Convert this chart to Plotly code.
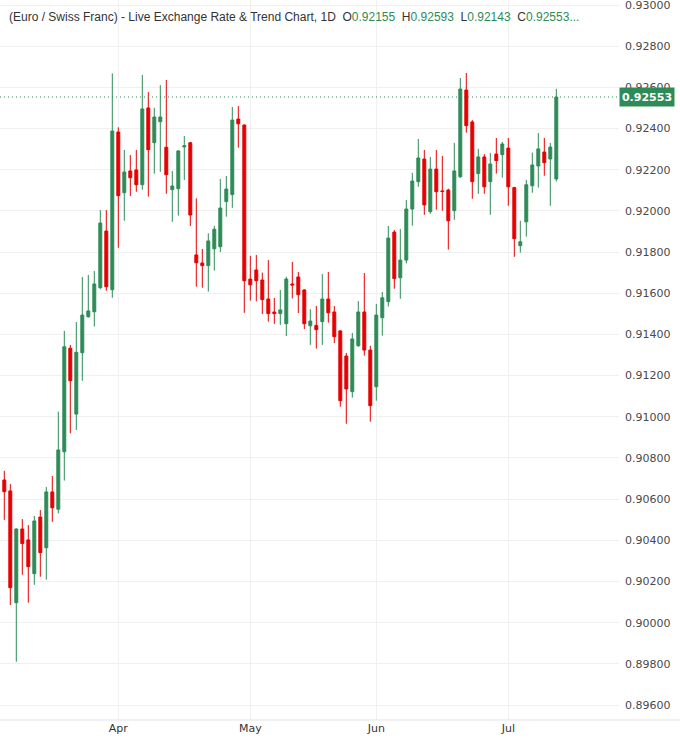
import pandas as pd
import plotly.graph_objects as go

# ---- data ----
dates = pd.bdate_range("2026-03-05", "2026-07-13")

opens = [0.90693, 0.90640, 0.90097, 0.90455, 0.90402, 0.90238, 0.90513, 0.90364, 0.90635, 0.90551,
         0.90830, 0.91333, 0.91013, 0.91311, 0.91486, 0.91510, 0.91627, 0.91902, 0.91617, 0.92383,
         0.92088, 0.92194, 0.92199, 0.92127, 0.92500, 0.92331, 0.92433, 0.92309, 0.92103, 0.92108,
         0.92311, 0.92331, 0.91786, 0.91747, 0.91734, 0.91816, 0.91826, 0.92045, 0.92079, 0.92446,
         0.92417, 0.91669, 0.91713, 0.91664, 0.91572, 0.91509, 0.91501, 0.91452, 0.91645, 0.91679,
         0.91616, 0.91442, 0.91444, 0.91462, 0.91572, 0.91509, 0.91417, 0.91295, 0.91122, 0.91345,
         0.91509, 0.91324, 0.91146, 0.91481, 0.91559, 0.91897, 0.91675, 0.91761, 0.92009, 0.92142,
         0.92252, 0.91996, 0.92203, 0.92097, 0.92101, 0.92001, 0.92166, 0.92587, 0.92432, 0.92181,
         0.92262, 0.92142, 0.92276, 0.92273, 0.92305, 0.92113, 0.91831, 0.91947, 0.92122, 0.92218,
         0.92286, 0.92252, 0.92155]
highs = [0.90737, 0.90673, 0.90458, 0.90503, 0.90474, 0.90518, 0.90547, 0.90659, 0.90712, 0.91025,
         0.91417, 0.91349, 0.91460, 0.91679, 0.91689, 0.91708, 0.92004, 0.92004, 0.92668, 0.92406,
         0.92296, 0.92271, 0.92296, 0.92660, 0.92577, 0.92501, 0.92611, 0.92636, 0.92194, 0.92295,
         0.92364, 0.92335, 0.92061, 0.91815, 0.91891, 0.91927, 0.92155, 0.92169, 0.92505, 0.92509,
         0.92420, 0.91782, 0.91786, 0.91700, 0.91761, 0.91577, 0.91616, 0.91680, 0.91752, 0.91703,
         0.91620, 0.91523, 0.91538, 0.91693, 0.91703, 0.91538, 0.91421, 0.91310, 0.91407, 0.91562,
         0.91698, 0.91345, 0.91548, 0.91606, 0.91927, 0.91907, 0.91912, 0.92053, 0.92185, 0.92349,
         0.92296, 0.92262, 0.92296, 0.92267, 0.92108, 0.92330, 0.92645, 0.92670, 0.92441, 0.92301,
         0.92276, 0.92281, 0.92354, 0.92335, 0.92354, 0.92117, 0.91952, 0.92151, 0.92283, 0.92378,
         0.92354, 0.92330, 0.92593]
lows = [0.90499, 0.90086, 0.89810, 0.90232, 0.90097, 0.90184, 0.90223, 0.90209, 0.90490, 0.90531,
        0.90690, 0.90920, 0.90936, 0.91175, 0.91481, 0.91438, 0.91620, 0.91612, 0.91578, 0.91821,
        0.91952, 0.92072, 0.92093, 0.92103, 0.92069, 0.92181, 0.92190, 0.92083, 0.91947, 0.91977,
        0.92150, 0.91927, 0.91632, 0.91627, 0.91608, 0.91710, 0.91800, 0.91972, 0.92015, 0.92307,
        0.91505, 0.91564, 0.91561, 0.91499, 0.91462, 0.91451, 0.91446, 0.91392, 0.91575, 0.91504,
        0.91426, 0.91349, 0.91331, 0.91349, 0.91457, 0.91358, 0.91049, 0.90966, 0.91093, 0.91340,
        0.91297, 0.90976, 0.91078, 0.91394, 0.91535, 0.91622, 0.91573, 0.91745, 0.91928, 0.92117,
        0.91981, 0.91986, 0.92006, 0.92001, 0.91812, 0.91957, 0.92160, 0.92380, 0.92059, 0.92083,
        0.92083, 0.91981, 0.92181, 0.92161, 0.92025, 0.91777, 0.91797, 0.91875, 0.92088, 0.92113,
        0.92171, 0.92025, 0.92143]
closes = [0.90636, 0.90170, 0.90455, 0.90384, 0.90272, 0.90494, 0.90340, 0.90635, 0.90558, 0.90839,
          0.91340, 0.91175, 0.91313, 0.91494, 0.91514, 0.91645, 0.91941, 0.91632, 0.92388, 0.92074,
          0.92189, 0.92161, 0.92127, 0.92495, 0.92297, 0.92456, 0.92456, 0.92176, 0.92121, 0.92291,
          0.92316, 0.91980, 0.91748, 0.91734, 0.91854, 0.91911, 0.92014, 0.92106, 0.92441, 0.92423,
          0.91661, 0.91641, 0.91661, 0.91569, 0.91501, 0.91501, 0.91519, 0.91669, 0.91640, 0.91593,
          0.91452, 0.91465, 0.91423, 0.91572, 0.91505, 0.91389, 0.91078, 0.91135, 0.91378, 0.91509,
          0.91324, 0.91054, 0.91494, 0.91578, 0.91868, 0.91671, 0.91761, 0.92009, 0.92145, 0.92257,
          0.92029, 0.92203, 0.92093, 0.92094, 0.91952, 0.92194, 0.92592, 0.92414, 0.92142, 0.92262,
          0.92117, 0.92228, 0.92244, 0.92325, 0.92117, 0.91865, 0.91850, 0.92127, 0.92223, 0.92301,
          0.92234, 0.92310, 0.92553]

y_ticks = [0.896, 0.898, 0.900, 0.902, 0.904, 0.906, 0.908, 0.910, 0.912, 0.914, 0.916, 0.918,
           0.920, 0.922, 0.924, 0.926, 0.928, 0.930]
title_text = "(Euro / Swiss Franc) - Live Exchange Rate &amp; Trend Chart, 1D"

GREEN = "#2E8B57"
RED = "#E80000"

n = len(closes)
x_idx = list(range(n))
month_ticks = [i for i in range(n) if i > 0 and dates[i].month != dates[i - 1].month]
month_text = [dates[i].strftime("%b") for i in month_ticks]

fig = go.Figure(go.Candlestick(
    x=x_idx, open=opens, high=highs, low=lows, close=closes,
    increasing=dict(line=dict(color=GREEN, width=1), fillcolor=GREEN),
    decreasing=dict(line=dict(color=RED, width=1), fillcolor=RED),
    whiskerwidth=0, hoverinfo="skip",
))

last = closes[-1]
fig.add_shape(type="line", xref="paper", x0=0, x1=1, yref="y", y0=last, y1=last,
              line=dict(color=GREEN, width=1, dash="1px,3px"))
fig.add_shape(type="line", xref="paper", x0=0, x1=1.1, yref="paper", y0=0, y1=0,
              line=dict(color="#E0E3EB", width=1))

fig.add_annotation(xref="paper", x=1.0, yref="y", y=last, xanchor="left", yanchor="middle",
                   text="<b>%.5f</b>" % last, showarrow=False, bgcolor=GREEN,
                   font=dict(family="DejaVu Sans", size=11, color="white"),
                   width=50, height=14, borderpad=2)

sp = "&nbsp;&nbsp;"
hdr = (title_text +
       sp + "O<span style='color:%s'>%.5f</span>" % (GREEN, opens[-1]) +
       sp + "H<span style='color:%s'>%.5f</span>" % (GREEN, highs[-1]) +
       sp + "L<span style='color:%s'>%.5f</span>" % (GREEN, lows[-1]) +
       sp + "C<span style='color:%s'>%.5f...</span>" % (GREEN, closes[-1]))
fig.add_annotation(xref="paper", x=0, yref="paper", y=1 - 17 / 720, xanchor="left",
                   yanchor="middle", text=hdr, showarrow=False, align="left", xshift=7,
                   font=dict(family="Liberation Sans", size=12, color="#333333"))

fig.update_layout(
    width=680, height=747,
    margin=dict(l=0, r=61, t=0, b=27),
    paper_bgcolor="white", plot_bgcolor="white",
    showlegend=False,
    xaxis=dict(range=[-0.717, 102.45], tickvals=month_ticks, ticktext=month_text,
               showgrid=True, gridcolor="#F0F0F0", gridwidth=1, zeroline=False,
               showline=False, ticks="", rangeslider=dict(visible=False),
               tickfont=dict(family="DejaVu Sans", size=11, color="#333333")),
    yaxis=dict(side="right", range=[0.895272, 0.930243], tickvals=y_ticks, tickformat=".5f",
               showgrid=True, gridcolor="#F0F0F0", gridwidth=1, zeroline=False,
               showline=False, ticks="", ticklabelstandoff=5, ticklabeloverflow="allow",
               tickfont=dict(family="DejaVu Sans", size=11, color="#4A4A4A")),
)

fig.write_html("out.html")
